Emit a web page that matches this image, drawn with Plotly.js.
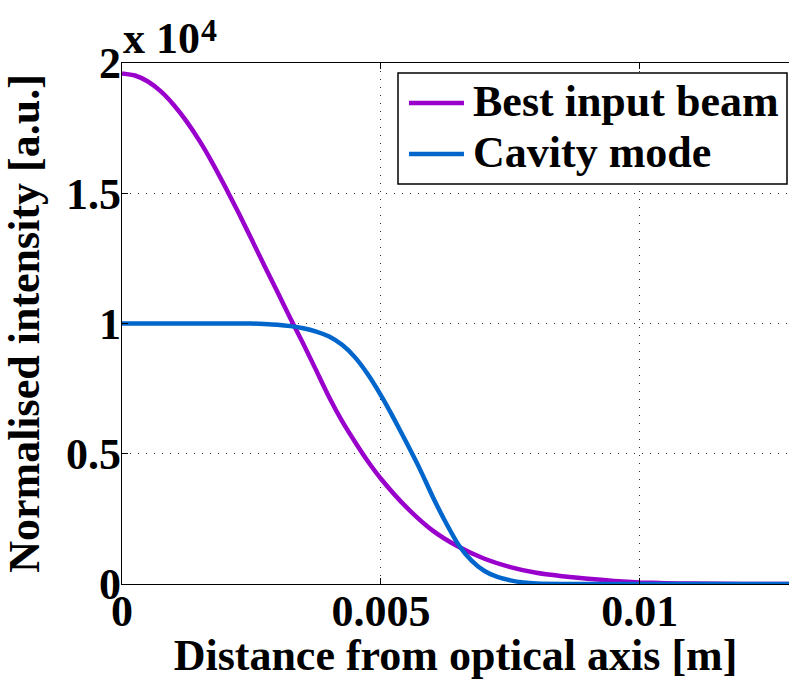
<!DOCTYPE html>
<html><head><meta charset="utf-8">
<script src="https://cdn.plot.ly/plotly-3.0.1.min.js"></script>
<style>html,body{margin:0;padding:0;background:#fff}#plot{width:789px;height:680px}</style>
</head><body><div id="plot"></div>
<script>
// Distance from optical axis [m]
const xBeam = [0, 0.00025, 0.0005, 0.00075, 0.001, 0.00125, 0.0015, 0.00175, 0.002, 0.00225, 0.0025, 0.00275, 0.003, 0.00325, 0.0035, 0.00375, 0.004, 0.00425, 0.0045, 0.00475, 0.005, 0.0055, 0.006, 0.0065, 0.007, 0.0075, 0.008, 0.0085, 0.009, 0.0095, 0.010, 0.0105, 0.011, 0.012, 0.013];
// Best input beam, normalised intensity (x 10^4)
const yBeam = [1.960, 1.952, 1.929, 1.891, 1.839, 1.775, 1.700, 1.615, 1.522, 1.425, 1.324, 1.222, 1.122, 1.020, 0.922, 0.820, 0.717, 0.625, 0.545, 0.470, 0.404, 0.293, 0.205, 0.143, 0.097, 0.065, 0.043, 0.030, 0.020, 0.012, 0.006, 0.003, 0.0015, 0.0004, 0.0001];
const xCav = [0, 0.0005, 0.001, 0.0015, 0.002, 0.0025, 0.00275, 0.003, 0.00325, 0.0035, 0.00375, 0.004, 0.00425, 0.0045, 0.00475, 0.005, 0.00525, 0.0055, 0.00575, 0.006, 0.00625, 0.0065, 0.00675, 0.007, 0.00725, 0.0075, 0.00775, 0.008, 0.0085, 0.009, 0.010, 0.011, 0.012, 0.013];
// Cavity mode, normalised intensity (x 10^4)
const yCav = [1.0, 1.0, 1.0, 1.0, 1.0, 1.0, 0.998, 0.995, 0.990, 0.982, 0.969, 0.950, 0.918, 0.870, 0.804, 0.724, 0.635, 0.540, 0.442, 0.335, 0.237, 0.150, 0.090, 0.050, 0.027, 0.014, 0.006, 0.002, 0.0004, 0, 0, 0, 0, 0];
const names = ["Best input beam", "Cavity mode"];
const colors = ["#9900CC", "#0066CC"];
const xTicks = [0, 0.005, 0.01];
const xTickText = ["0", "0.005", "0.01"];
const yTicks = [0, 0.5, 1, 1.5, 2];
const yTickText = ["0", "0.5", "1", "1.5", "2"];
const multBase = "x 10";
const multExp = "4";

const font = "Liberation Serif, Times New Roman, serif";
const f = (s) => ({family: font, size: s, color: "#000", weight: "bold"});
const traces = [
  {x: xBeam, y: yBeam, name: names[0], mode: "lines", showlegend: false, line: {color: colors[0], width: 4.5, shape: "spline", smoothing: 0.6}},
  {x: xCav, y: yCav, name: names[1], mode: "lines", showlegend: false, line: {color: colors[1], width: 4.5, shape: "spline", smoothing: 0.6}}
];

// legend box drawn in paper coordinates (MATLAB-style legend)
const lg = {x0: 0.4138, x1: 0.997, y0: 0.7678, y1: 0.9808, lx0: 0.4303, lx1: 0.5127, tx: 0.5232, rows: [0.9232, 0.8253]};
const shapes = [{type: "rect", xref: "paper", yref: "paper", x0: lg.x0, x1: lg.x1, y0: lg.y0, y1: lg.y1,
                 line: {color: "#000", width: 1.5}, fillcolor: "#fff", layer: "above"}];
const annotations = [
  {xref: "paper", yref: "paper", x: 0, y: 1.0439, xanchor: "left", yanchor: "middle", xshift: -1, yshift: 2, showarrow: false,
   text: multBase, font: f(44)},
  {xref: "paper", yref: "paper", x: 0.111, y: 1.0714, xanchor: "left", yanchor: "middle", xshift: 3, yshift: -4, showarrow: false,
   text: multExp, font: f(32)}
];
names.forEach((n, i) => {
  shapes.push({type: "line", xref: "paper", yref: "paper", x0: lg.lx0, x1: lg.lx1, y0: lg.rows[i], y1: lg.rows[i],
               line: {color: colors[i], width: 4.5}, layer: "above"});
  annotations.push({xref: "paper", yref: "paper", x: lg.tx, y: lg.rows[i], xanchor: "left", yanchor: "middle", yshift: 2,
                    showarrow: false, text: n, font: f(44)});
});

const layout = {
  width: 789, height: 680,
  margin: {l: 122, r: 0, t: 63, b: 96},
  paper_bgcolor: "#fff", plot_bgcolor: "#fff",
  font: f(44),
  showlegend: false,
  xaxis: {range: [0, 0.01288], tickvals: xTicks, ticktext: xTickText, ticks: "inside", ticklen: 6, tickcolor: "#000",
          showline: true, linecolor: "#000", linewidth: 1.2, mirror: "ticks",
          showgrid: true, gridcolor: "#333", griddash: "1px,7px", gridwidth: 1, zeroline: false,
          tickfont: f(44), ticklabelstandoff: -12,
          title: {text: "Distance from optical axis [m]", standoff: 0, font: f(44)}},
  yaxis: {range: [0, 2], tickvals: yTicks, ticktext: yTickText, ticks: "inside", ticklen: 6, tickcolor: "#000",
          showline: true, linecolor: "#000", linewidth: 1.2, mirror: false,
          showgrid: true, gridcolor: "#333", griddash: "1px,7px", gridwidth: 1, zeroline: false,
          tickfont: f(44), ticklabelstandoff: -9,
          title: {text: "Normalised intensity [a.u.]", standoff: 15, font: f(44)}},
  shapes: shapes,
  annotations: annotations
};
Plotly.newPlot("plot", traces, layout, {displayModeBar: false, staticPlot: true});
</script></body></html>
